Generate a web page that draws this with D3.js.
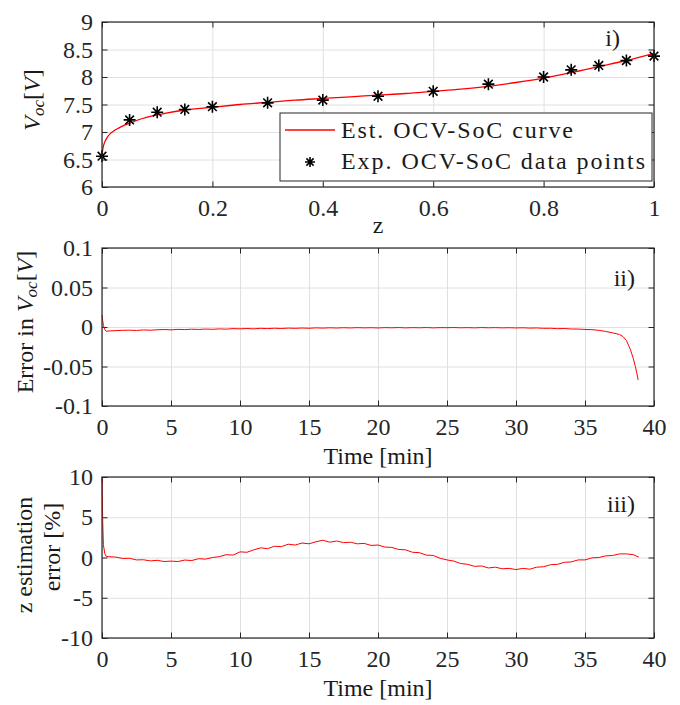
<!DOCTYPE html>
<html lang="en">
<head>
<meta charset="UTF-8">
<script src="https://d3js.org/d3.v7.min.js"></script>
<style>
body{margin:0;background:#fff;}
svg{fill:#262626;}
text{font-family:"Liberation Serif","DejaVu Serif",serif !important;}
.grid line{stroke:#e0e0e0;}
.grid .domain{display:none;}
.axis .domain{display:none;}
.axis line{stroke:#262626;}
.axis text{font-size:24px;fill:#262626;}
.lbl{font-size:24px;fill:#1a1a1a;}
.curve{fill:none;stroke:#ff0000;stroke-width:1.3;}
.noisy{fill:none;stroke:#ff0000;stroke-width:1;}
.star{stroke:#000;stroke-width:1.6;fill:none;}
</style>
<title>OCV-SoC</title>
</head>
<body>
<svg id="chart" width="680" height="705"></svg>
<script>
// panel i) experimental OCV points
const zExp = [0, 0.05, 0.1, 0.15, 0.2, 0.3, 0.4, 0.5, 0.6, 0.7, 0.8, 0.85, 0.9, 0.95, 1.0];
const vExp = [6.56, 7.22, 7.36, 7.41, 7.46, 7.53, 7.58, 7.65, 7.74, 7.87, 8.00, 8.13, 8.21, 8.30, 8.38];

// panel i) estimated curve
const zFit = [0, 0.001, 0.003, 0.006, 0.01, 0.015, 0.02, 0.03, 0.04, 0.05, 0.075, 0.1, 0.15, 0.2, 0.25, 0.3,
  0.35, 0.4, 0.45, 0.5, 0.55, 0.6, 0.65, 0.7, 0.75, 0.8, 0.85, 0.9, 0.95, 1.0];
const vFit = [6.56, 6.66, 6.76, 6.84, 6.91, 6.97, 7.01, 7.07, 7.12, 7.16, 7.25, 7.31, 7.40, 7.45, 7.50, 7.54,
  7.58, 7.61, 7.64, 7.67, 7.70, 7.74, 7.78, 7.83, 7.90, 7.98, 8.08, 8.19, 8.30, 8.43];

// panel ii) Voc error [V]
const tErrV = [0, 0.05, 0.1, 0.2, 0.3, 0.5, 1, 1.5, 2, 2.5, 3, 3.5, 4, 4.5, 5, 5.5, 6, 6.5, 7, 7.5, 8, 8.5, 9, 9.5,
  10, 10.5, 11, 11.5, 12, 12.5, 13, 13.5, 14, 14.5, 15, 15.5, 16, 16.5, 17, 17.5, 18, 18.5, 19, 19.5,
  20, 20.5, 21, 21.5, 22, 22.5, 23, 23.5, 24, 24.5, 25, 25.5, 26, 26.5, 27, 27.5, 28, 28.5, 29, 29.5,
  30, 30.5, 31, 31.5, 32, 32.5, 33, 33.5, 34, 34.5, 35, 35.5, 36, 36.5, 37, 37.5, 37.75, 38, 38.15,
  38.3, 38.5, 38.65, 38.8, 38.85];
const errV = [0.015, 0.008, 0.002, -0.003, -0.0055, -0.0050, -0.0046, -0.0042, -0.0040, -0.0044, -0.0037, -0.0041,
  -0.0035, -0.0032, -0.0036, -0.0030, -0.0033, -0.0028, -0.0031, -0.0026, -0.0029, -0.0024, -0.0027, -0.0020,
  -0.0023, -0.0019, -0.0023, -0.0017, -0.0020, -0.0016, -0.0019, -0.0014, -0.0017, -0.0013, -0.0016, -0.0011,
  -0.0014, -0.0010, -0.0013, -0.0009, -0.0012, -0.0008, -0.0011, -0.0009, -0.0012, -0.0008, -0.0010, -0.0007,
  -0.0011, -0.0008, -0.0010, -0.0007, -0.0011, -0.0008, -0.0009, -0.0007, -0.0010, -0.0008, -0.0011, -0.0007,
  -0.0010, -0.0008, -0.0011, -0.0009, -0.0012, -0.0010, -0.0014, -0.0012, -0.0017, -0.0016, -0.0021, -0.0019,
  -0.0025, -0.0026, -0.0031, -0.0034, -0.0042, -0.0056, -0.0074, -0.0095, -0.0120, -0.0170, -0.0230,
  -0.0290, -0.0400, -0.0500, -0.0620, -0.0670];

// panel iii) z estimation error [%]
const tErrZ = [0, 0.05, 0.1, 0.2, 0.3, 0.5, 1, 1.5, 2, 2.5, 3, 3.5, 4, 4.5, 5, 5.5, 6, 6.5, 7, 7.5, 8, 8.5, 9, 9.5,
  10, 10.5, 11, 11.5, 12, 12.5, 13, 13.5, 14, 14.5, 15, 15.5, 16, 16.5, 17, 17.5, 18, 18.5, 19, 19.5,
  20, 20.5, 21, 21.5, 22, 22.5, 23, 23.5, 24, 24.5, 25, 25.5, 26, 26.5, 27, 27.5, 28, 28.5, 29, 29.5,
  30, 30.5, 31, 31.5, 32, 32.5, 33, 33.5, 34, 34.5, 35, 35.5, 36, 36.5, 37, 37.5, 38, 38.5, 38.9];
const errZ = [10, 4.5, 1.6, 0.5, 0.15, 0.1, 0.05, -0.12, -0.1, -0.3, -0.28, -0.42, -0.35, -0.5, -0.45, -0.5,
  -0.32, -0.38, -0.15, -0.2, 0.0, 0.1, 0.35, 0.3, 0.7, 0.65, 0.95, 1.2, 1.1, 1.4, 1.35, 1.65, 1.55, 1.8, 1.7,
  1.95, 2.15, 1.9, 2.05, 1.85, 1.9, 1.7, 1.75, 1.5, 1.55, 1.3, 1.25, 1.0, 0.95, 0.65, 0.6, 0.3, 0.25, -0.1,
  -0.3, -0.45, -0.75, -0.85, -1.1, -1.05, -1.3, -1.2, -1.4, -1.35, -1.5, -1.35, -1.45, -1.2, -1.15, -0.9,
  -0.85, -0.6, -0.55, -0.3, -0.3, -0.05, 0.0, 0.2, 0.25, 0.45, 0.45, 0.35, 0.05];

// tick values
const zTicks = [0, 0.2, 0.4, 0.6, 0.8, 1];
const vTicks = [6, 6.5, 7, 7.5, 8, 8.5, 9];
const tTicks = [0, 5, 10, 15, 20, 25, 30, 35, 40];
const eVTicks = [-0.1, -0.05, 0, 0.05, 0.1];
const eZTicks = [-10, -5, 0, 5, 10];

const svg = d3.select('#chart');
const left = 102, right = 654, tick = 5.5;
const serif = '"Liberation Serif","DejaVu Serif",serif';
const fmt = d => String(+d.toFixed(3)).replace('\u2212', '-');

// draws one panel frame: grid, box, ticks on all four sides
let drawPanel = (top, bottom, x, y, xt, yt) => {
  let g = svg.append('g');
  g.append('g').attr('class', 'grid')
    .attr('transform', 'translate(0,' + bottom + ')')
    .call(d3.axisBottom(x).tickValues(xt).tickSize(-(bottom - top)).tickFormat(''));
  g.append('g').attr('class', 'grid')
    .attr('transform', 'translate(' + left + ',0)')
    .call(d3.axisLeft(y).tickValues(yt).tickSize(-(right - left)).tickFormat(''));
  g.append('g').attr('class', 'axis')
    .attr('transform', 'translate(0,' + bottom + ')')
    .call(d3.axisBottom(x).tickValues(xt).tickSizeInner(-tick).tickSizeOuter(0).tickPadding(12).tickFormat(fmt));
  g.append('g').attr('class', 'axis')
    .attr('transform', 'translate(' + left + ',0)')
    .call(d3.axisLeft(y).tickValues(yt).tickSizeInner(-tick).tickSizeOuter(0).tickPadding(9).tickFormat(fmt));
  g.append('g').attr('class', 'axis')
    .attr('transform', 'translate(0,' + top + ')')
    .call(d3.axisTop(x).tickValues(xt).tickSizeInner(-tick).tickSizeOuter(0).tickFormat(''));
  g.append('g').attr('class', 'axis')
    .attr('transform', 'translate(' + right + ',0)')
    .call(d3.axisRight(y).tickValues(yt).tickSizeInner(-tick).tickSizeOuter(0).tickFormat(''));
  g.selectAll('.axis').attr('font-family', serif);
  return g;
};
let drawBox = (top, bottom) => {
  svg.append('rect')
    .attr('x', left).attr('y', top)
    .attr('width', right - left).attr('height', bottom - top)
    .attr('fill', 'none').attr('stroke', '#262626').attr('stroke-width', 1.2);
};
let starPath = r => {
  let k = r * 0.72;
  return 'M' + (-r) + ',0H' + r + 'M0,' + (-r) + 'V' + r +
    'M' + (-k) + ',' + (-k) + 'L' + k + ',' + k + 'M' + (-k) + ',' + k + 'L' + k + ',' + (-k);
};
let label = (cls) => svg.append('text').attr('class', cls).attr('font-family', serif);

// ---------- panel i ----------
const p1 = {top: 22, bottom: 187};
let x1 = d3.scaleLinear().domain([0, 1]).range([left, right]);
let y1 = d3.scaleLinear().domain([6, 9]).range([p1.bottom, p1.top]);
drawPanel(p1.top, p1.bottom, x1, y1, zTicks, vTicks);

svg.append('path')
  .datum(zFit.map((z, i) => [z, vFit[i]]))
  .attr('class', 'curve')
  .attr('d', d3.line().x(d => x1(d[0])).y(d => y1(d[1])).curve(d3.curveMonotoneX));
svg.selectAll('.star1')
  .data(zExp.map((z, i) => [z, vExp[i]]))
  .enter().append('path')
  .attr('class', 'star')
  .attr('transform', d => 'translate(' + x1(d[0]) + ',' + y1(d[1]) + ')')
  .attr('d', starPath(6));
drawBox(p1.top, p1.bottom);

// legend
let leg = svg.append('g');
leg.append('rect').attr('x', 280).attr('y', 113).attr('width', 372).attr('height', 68)
  .attr('fill', '#fff').attr('stroke', '#262626').attr('stroke-width', 1);
leg.append('line').attr('x1', 285).attr('x2', 335).attr('y1', 130).attr('y2', 130)
  .attr('stroke', '#ff0000').attr('stroke-width', 1.3);
leg.append('path').attr('class', 'star').attr('transform', 'translate(310,162)').attr('d', starPath(5));
label('lbl').attr('x', 341).attr('y', 138).attr('textLength', 232).attr('lengthAdjust', 'spacing')
  .text('Est. OCV-SoC curve');
label('lbl').attr('x', 341).attr('y', 169).attr('textLength', 304).attr('lengthAdjust', 'spacing')
  .text('Exp. OCV-SoC data points');

label('lbl').attr('x', 620).attr('y', 46).attr('text-anchor', 'end').text('i)');
label('lbl').attr('x', 378).attr('y', 233).attr('text-anchor', 'middle').text('z');
let yl1 = label('lbl').attr('transform', 'translate(40,100) rotate(-90)').attr('text-anchor', 'middle');
yl1.append('tspan').attr('font-style', 'italic').text('V');
yl1.append('tspan').attr('font-style', 'italic').attr('font-size', 17).attr('dy', 4).text('oc');
yl1.append('tspan').attr('dy', -4).text('[');
yl1.append('tspan').attr('font-style', 'italic').text('V');
yl1.append('tspan').text(']');

// ---------- panel ii ----------
const p2 = {top: 248, bottom: 406};
let x2 = d3.scaleLinear().domain([0, 40]).range([left, right]);
let y2 = d3.scaleLinear().domain([-0.1, 0.1]).range([p2.bottom, p2.top]);
drawPanel(p2.top, p2.bottom, x2, y2, tTicks, eVTicks);
svg.append('path')
  .datum(tErrV.map((t, i) => [t, errV[i]]))
  .attr('class', 'noisy')
  .attr('d', d3.line().x(d => x2(d[0])).y(d => y2(d[1])));
drawBox(p2.top, p2.bottom);

label('lbl').attr('x', 635).attr('y', 286).attr('text-anchor', 'end').text('ii)');
label('lbl').attr('x', 378).attr('y', 464).attr('text-anchor', 'middle').text('Time [min]');
let yl2 = label('lbl').attr('transform', 'translate(33,322) rotate(-90)').attr('text-anchor', 'middle');
yl2.append('tspan').text('Error in ');
yl2.append('tspan').attr('font-style', 'italic').text('V');
yl2.append('tspan').attr('font-style', 'italic').attr('font-size', 17).attr('dy', 4).text('oc');
yl2.append('tspan').attr('dy', -4).text('[');
yl2.append('tspan').attr('font-style', 'italic').text('V');
yl2.append('tspan').text(']');

// ---------- panel iii ----------
const p3 = {top: 477, bottom: 638};
let x3 = d3.scaleLinear().domain([0, 40]).range([left, right]);
let y3 = d3.scaleLinear().domain([-10, 10]).range([p3.bottom, p3.top]);
drawPanel(p3.top, p3.bottom, x3, y3, tTicks, eZTicks);
svg.append('path')
  .datum(tErrZ.map((t, i) => [t, errZ[i]]))
  .attr('class', 'noisy')
  .attr('d', d3.line().x(d => x3(d[0])).y(d => y3(d[1])));
drawBox(p3.top, p3.bottom);

label('lbl').attr('x', 635).attr('y', 512).attr('text-anchor', 'end').text('iii)');
label('lbl').attr('x', 378).attr('y', 696).attr('text-anchor', 'middle').text('Time [min]');
label('lbl').attr('transform', 'translate(32,555) rotate(-90)').attr('text-anchor', 'middle').text('z estimation');
label('lbl').attr('transform', 'translate(60,547) rotate(-90)').attr('text-anchor', 'middle').text('error [%]');
</script>
</body>
</html>
